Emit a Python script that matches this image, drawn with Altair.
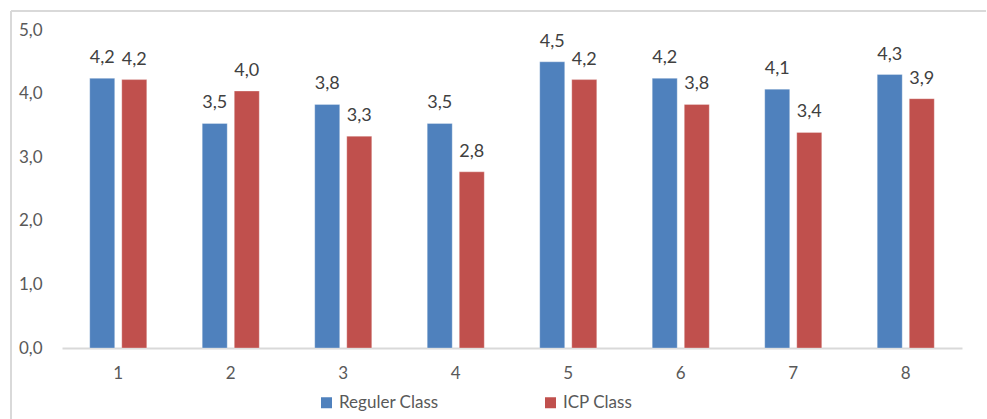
import altair as alt
import pandas as pd

categories = ["1", "2", "3", "4", "5", "6", "7", "8"]
reguler = [4.24, 3.53, 3.83, 3.53, 4.50, 4.24, 4.07, 4.30]
icp = [4.22, 4.04, 3.33, 2.77, 4.22, 3.83, 3.39, 3.92]
series_names = ["Reguler Class", "ICP Class"]
colors = ["#4F81BD", "#C0504D"]
y_ticks = [0, 1, 2, 3, 4, 5]

rows = []
for c, r, i in zip(categories, reguler, icp):
    rows.append({"cat": c, "series": series_names[0], "value": r})
    rows.append({"cat": c, "series": series_names[1], "value": i})
df = pd.DataFrame(rows)

FONT = "Lato"
GRAY = "#595959"

x_enc = alt.X(
    "cat:N",
    sort=categories,
    scale=alt.Scale(paddingInner=0.493, paddingOuter=0.2465),
    axis=alt.Axis(
        title=None, labelAngle=0, ticks=False, domainColor="#D9D9D9",
        domainWidth=2, labelPadding=17, labelFontSize=17, labelColor=GRAY,
        labelFont=FONT,
    ),
)
xoff_enc = alt.XOffset(
    "series:N", sort=series_names,
    scale=alt.Scale(paddingInner=0.22, paddingOuter=0),
)
y_enc = alt.Y(
    "value:Q",
    scale=alt.Scale(domain=[0, 5], nice=False),
    axis=alt.Axis(
        title=None, values=y_ticks, grid=False, domain=False, ticks=False,
        labelExpr="replace(format(datum.value, '.1f'), '.', ',')",
        labelPadding=20, labelFontSize=17, labelColor=GRAY, labelFont=FONT,
    ),
)

bars = alt.Chart(df).mark_bar(stroke="white", strokeWidth=0.6, strokeOpacity=0.5).encode(
    x=x_enc,
    xOffset=xoff_enc,
    y=y_enc,
    color=alt.Color(
        "series:N",
        sort=series_names,
        scale=alt.Scale(domain=series_names, range=colors),
        legend=alt.Legend(
            title=None, orient="none", direction="horizontal",
            legendX=256, legendY=364, symbolType="square", symbolSize=121,
            symbolStrokeWidth=0, labelFontSize=17, labelColor=GRAY,
            labelFont=FONT, labelOffset=4, columnPadding=103,
        ),
    ),
)

labels = alt.Chart(df).transform_calculate(
    label="replace(format(datum.value, '.1f'), '.', ',')"
).mark_text(
    baseline="alphabetic", dy=-15, fontSize=18, font=FONT, color="#404040"
).encode(
    x=x_enc,
    xOffset=xoff_enc,
    y=y_enc,
    text="label:N",
)

frame_df = pd.DataFrame({"k": [0]})
top_border = alt.Chart(frame_df).mark_rule(color="#D9D9D9", strokeWidth=2).encode(
    x=alt.value(-51), x2=alt.value(924), y=alt.value(-19)
)
left_border = alt.Chart(frame_df).mark_rule(color="#D9D9D9", strokeWidth=2).encode(
    x=alt.value(-51), y=alt.value(-19), y2=alt.value(389)
)

chart = alt.layer(top_border, left_border, bars, labels).properties(
    width=900,
    height=318,
    autosize=alt.AutoSizeParams(type="none"),
    padding={"left": 62, "top": 30, "right": 25, "bottom": 71},
    background="white",
).configure_view(stroke=None)

chart.save("out.html", embed_options={"renderer": "svg", "actions": False})
